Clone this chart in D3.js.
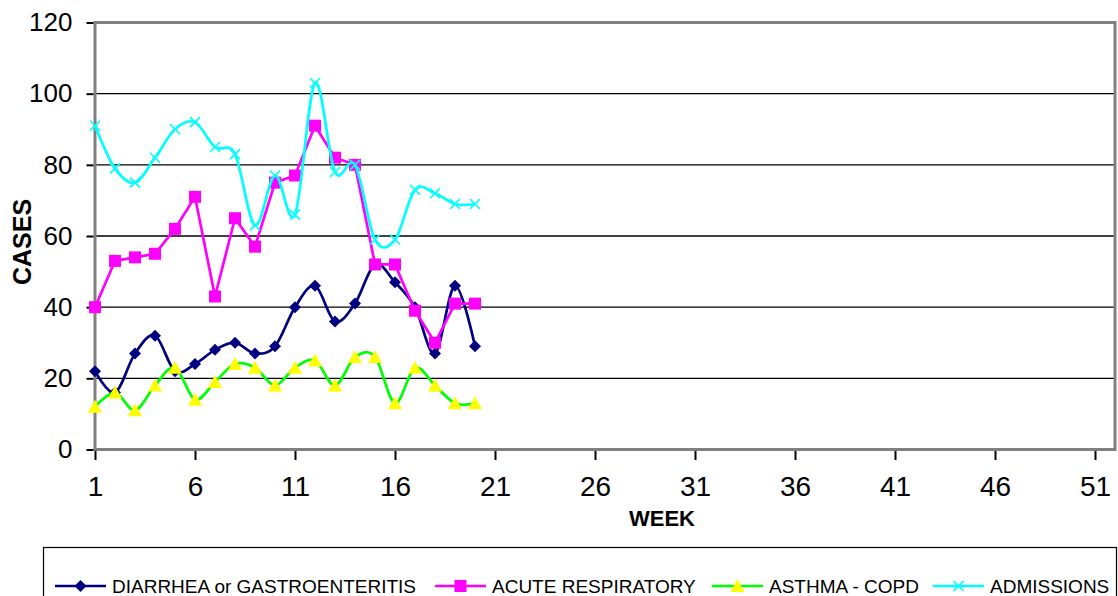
<!DOCTYPE html>
<html>
<head>
<meta charset="utf-8">
<script src="https://cdn.jsdelivr.net/npm/d3@7"></script>
<style>
  html, body { margin: 0; padding: 0; background: #fff; }
  svg { display: block; }
  text { font-family: "Liberation Sans", Arial, sans-serif; fill: #000; }
</style>
</head>
<body>
<svg id="chart" width="1118" height="596"></svg>
<script>
// weeks with data
var weeks = [1, 2, 3, 4, 5, 6, 7, 8, 9, 10, 11, 12, 13, 14, 15, 16, 17, 18, 19, 20];
var diarrhea = [22, 16, 27, 32, 22, 24, 28, 30, 27, 29, 40, 46, 36, 41, 52, 47, 40, 27, 46, 29];
var acuteResp = [40, 53, 54, 55, 62, 71, 43, 65, 57, 75, 77, 91, 82, 80, 52, 52, 39, 30, 41, 41];
var asthma = [12, 16, 11, 18, 23, 14, 19, 24, 23, 18, 23, 25, 18, 26, 26, 13, 23, 18, 13, 13];
var admissions = [91, 79, 75, 82, 90, 92, 85, 83, 63, 77, 66, 103, 78, 80, 59, 59, 73, 72, 69, 69];

var xTicks = [1, 6, 11, 16, 21, 26, 31, 36, 41, 46, 51];
var yTicks = [0, 20, 40, 60, 80, 100, 120];

var series = [
  {name: "DIARRHEA or GASTROENTERITIS", values: diarrhea, color: "#000080", marker: "diamond", smooth: true},
  {name: "ACUTE RESPIRATORY", values: acuteResp, color: "#ff00ff", marker: "square", smooth: false},
  {name: "ASTHMA - COPD", values: asthma, color: "#00ff00", marker: "triangle", smooth: true},
  {name: "ADMISSIONS", values: admissions, color: "#00ffff", marker: "x", smooth: true}
];

// where each legend entry starts
var legendX = [55, 435, 712, 933];

var svg = d3.select("#chart");

var x = d3.scaleLinear().domain([1, 52]).range([95, 1115]);
var y = d3.scaleLinear().domain([0, 120]).range([449.5, 22.5]);

// gridlines
svg.append("g")
  .selectAll("line")
  .data(yTicks.filter(d => d > 0 && d < 120))
  .join("line")
  .attr("x1", x(1)).attr("x2", x(52))
  .attr("y1", d => y(d)).attr("y2", d => y(d))
  .attr("stroke", "#000").attr("stroke-width", 1.3);

// plot frame
svg.append("rect")
  .attr("x", x(1)).attr("y", y(120))
  .attr("width", x(52) - x(1)).attr("height", y(0) - y(120))
  .attr("fill", "none").attr("stroke", "#808080").attr("stroke-width", 3);

// y axis
var yAxis = svg.append("g").attr("transform", "translate(" + (x(1) - 1.5) + ",0)")
  .call(d3.axisLeft(y).tickValues(yTicks).tickSize(7).tickPadding(14));
yAxis.select(".domain").remove();
yAxis.selectAll(".tick line").attr("stroke", "#000").attr("stroke-width", 2);
yAxis.selectAll(".tick text").attr("font-size", 26).attr("font-family", "Liberation Sans, Arial, sans-serif");

// x axis
var xAxis = svg.append("g").attr("transform", "translate(0," + (y(0) + 1.5) + ")")
  .call(d3.axisBottom(x).tickValues(xTicks).tickSize(9).tickPadding(16).tickFormat(d3.format("d")));
xAxis.select(".domain").remove();
xAxis.selectAll(".tick line").attr("stroke", "#000").attr("stroke-width", 2);
xAxis.selectAll(".tick text").attr("font-size", 28).attr("font-family", "Liberation Sans, Arial, sans-serif");

// axis titles
svg.append("text")
  .attr("x", 662).attr("y", 526)
  .attr("text-anchor", "middle")
  .attr("font-size", 22).attr("font-weight", "bold")
  .text("WEEK");

svg.append("text")
  .attr("transform", "translate(31,242) rotate(-90)")
  .attr("text-anchor", "middle")
  .attr("font-size", 25).attr("font-weight", "bold")
  .text("CASES");

function markerPath(type) {
  if (type === "diamond") return "M0,-6L6,0L0,6L-6,0Z";
  if (type === "square") return "M-6,-6H6V6H-6Z";
  if (type === "triangle") return "M0,-7L7,6H-7Z";
  return "M-5,-5L5,5M5,-5L-5,5";
}

function drawMarker(g, type, color) {
  if (type === "x") {
    g.append("path").attr("d", markerPath(type))
      .attr("stroke", color).attr("stroke-width", 1.6).attr("fill", "none");
  } else {
    g.append("path").attr("d", markerPath(type))
      .attr("fill", type === "triangle" ? "#ffff00" : color);
  }
}

// series
series.forEach(function(s) {
  var line = d3.line()
    .x((d, i) => x(weeks[i]))
    .y(d => y(d))
    .curve(s.smooth ? d3.curveCardinal.tension(0) : d3.curveLinear);

  svg.append("path")
    .datum(s.values)
    .attr("d", line)
    .attr("fill", "none")
    .attr("stroke", s.color)
    .attr("stroke-width", 2.7);

  s.values.forEach(function(v, i) {
    var g = svg.append("g").attr("transform", "translate(" + x(weeks[i]) + "," + y(v) + ")");
    drawMarker(g, s.marker, s.color);
  });
});

// legend
var legend = svg.append("g");
legend.append("rect")
  .attr("x", 43.5).attr("y", 547.5)
  .attr("width", 1073).attr("height", 80)
  .attr("fill", "#fff").attr("stroke", "#000").attr("stroke-width", 1.2);

var ly = 586;
series.forEach(function(s, i) {
  var lx = legendX[i];
  var g = legend.append("g");
  g.append("line")
    .attr("x1", lx).attr("x2", lx + 51)
    .attr("y1", ly).attr("y2", ly)
    .attr("stroke", s.color).attr("stroke-width", 2.5);
  var m = g.append("g").attr("transform", "translate(" + (lx + 25.5) + "," + ly + ")");
  drawMarker(m, s.marker, s.color);
  g.append("text")
    .attr("x", lx + 57).attr("y", 593)
    .attr("font-size", 19)
    .text(s.name);
});
</script>
</body>
</html>
